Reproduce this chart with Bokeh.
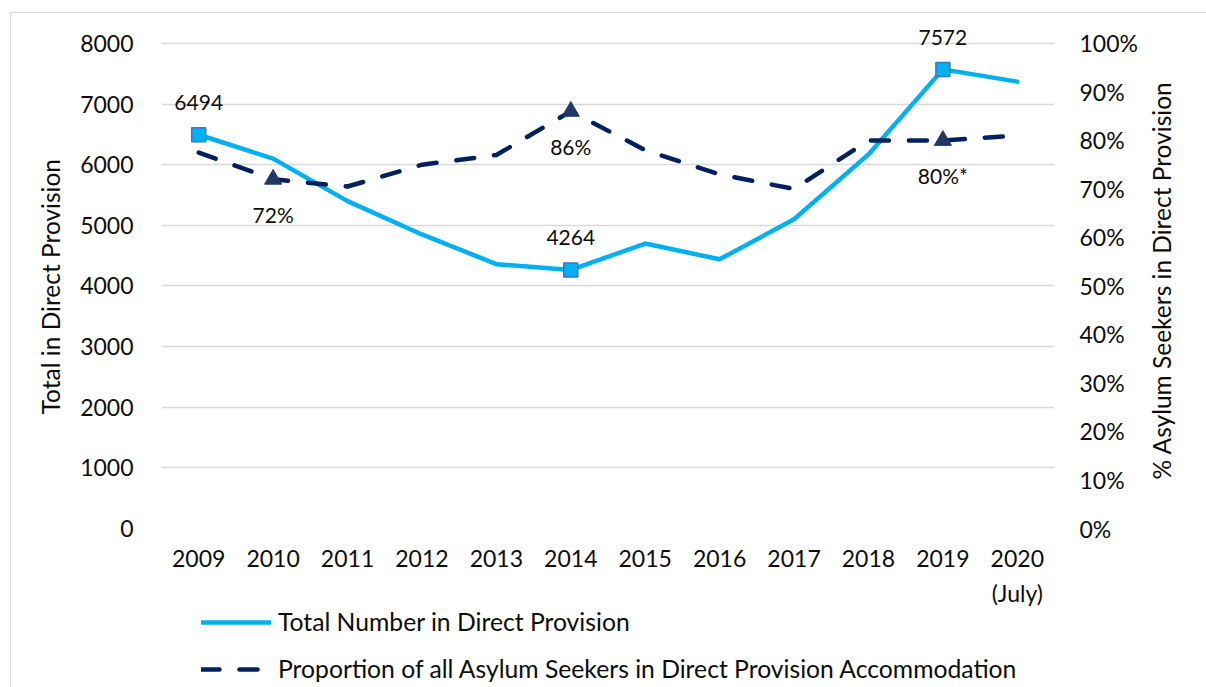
import math
from bokeh.plotting import figure
from bokeh.layouts import row, column
from bokeh.models import (Range1d, LinearAxis, FixedTicker, PrintfTickFormatter,
                          Legend, LegendItem, LabelSet, Label, ColumnDataSource)
from bokeh.embed import file_html
from bokeh.resources import INLINE
from bokeh.core.properties import value

# ---- data ----
years = ["2009", "2010", "2011", "2012", "2013", "2014",
         "2015", "2016", "2017", "2018", "2019", "2020\n(July)"]
total_dp = [6494, 6100, 5400, 4850, 4360, 4264, 4700, 4440, 5100, 6170, 7572, 7370]
pct_dp = [77.5, 72, 70.5, 75, 77, 86, 78, 73, 70, 80, 80, 81]

total_marked_years = ["2009", "2014", "2019"]
total_marked_text = ["6494", "4264", "7572"]
pct_marked_years = ["2010", "2014", "2019"]
pct_marked_text = ["72%", "86%", "80%*"]

left_ticks = [0, 1000, 2000, 3000, 4000, 5000, 6000, 7000, 8000]
right_ticks = [0, 10, 20, 30, 40, 50, 60, 70, 80, 90, 100]

series_names = ["Total Number in Direct Provision",
                "Proportion of all Asylum Seekers in Direct Provision Accommodation"]
left_title = "Total in Direct Provision"
right_title = "% Asylum Seekers in Direct Provision"

FONT = "Lato"
TXT = "#0d0d0d"
C_TOTAL = "#00b0f0"
C_PCT = "#002060"

total_marked_vals = [total_dp[years.index(y)] for y in total_marked_years]
pct_marked_vals = [pct_dp[years.index(y)] for y in pct_marked_years]

# ---- layout constants ----
FW, FH, AXIS_H = 893, 516, 486       # frame; 8000/100% line 30px under frame top
BL, BR, BB = 150, 90, 80             # borders of the main figure
PW, PH = BL + FW + BR, FH + BB
y_top = 8000 * FH / AXIS_H
pct_top = 100 * FH / AXIS_H

p = figure(x_range=years, y_range=Range1d(0, y_top), width=PW, height=PH,
           min_border_left=BL, min_border_right=BR, min_border_top=0,
           min_border_bottom=BB, output_backend="svg", toolbar_location=None)
p.outline_line_color = None
p.xgrid.grid_line_color = None
p.ygrid.grid_line_color = "#d9d9d9"
p.ygrid.grid_line_width = 1.5

p.yaxis.ticker = FixedTicker(ticks=left_ticks)
# trailing no-break spaces centre the title on the 0-8000 span
p.yaxis.axis_label = left_title + "\u00a0" * 5

p.extra_y_ranges = {"pct": Range1d(0, pct_top)}
rax = LinearAxis(y_range_name="pct", ticker=FixedTicker(ticks=right_ticks),
                 formatter=PrintfTickFormatter(format="%d%%"))
p.add_layout(rax, "right")

for ax in [p.xaxis[0], p.yaxis[0], rax]:
    ax.axis_line_color = None
    ax.major_tick_line_color = None
    ax.minor_tick_line_color = None
    ax.major_label_text_font = FONT
    ax.major_label_text_font_size = "23px"
    ax.major_label_text_color = TXT
    ax.axis_label_text_font = FONT
    ax.axis_label_text_font_size = "24.5px"
    ax.axis_label_text_font_style = "normal"
    ax.axis_label_text_color = TXT

p.xaxis.major_label_standoff = 9
p.xaxis.major_label_text_line_height = 1.25
p.yaxis[0].major_label_standoff = 22
p.yaxis[0].axis_label_standoff = 12
rax.major_label_standoff = 19

p.line(years, total_dp, line_color=C_TOTAL, line_width=4.5,
       line_join="round", line_cap="round")
p.line(years, pct_dp, y_range_name="pct", line_color=C_PCT,
       line_width=4.5, line_dash="18 20", line_cap="round")

p.scatter(total_marked_years, total_marked_vals, marker="square", size=14,
          fill_color=C_TOTAL, line_color="#4472c4", line_width=1.5)
p.scatter(pct_marked_years, pct_marked_vals, marker="triangle", size=17,
          fill_color="#1f3864", line_color="#1f3864", y_range_name="pct")

src_t = ColumnDataSource(dict(x=total_marked_years, y=total_marked_vals, t=total_marked_text))
src_p = ColumnDataSource(dict(x=pct_marked_years, y=pct_marked_vals, t=pct_marked_text))
p.add_layout(LabelSet(x="x", y="y", text="t", source=src_t,
                      text_align="center", text_baseline="middle", y_offset=32,
                      text_font=value(FONT), text_font_size="21px", text_color=TXT))
p.add_layout(LabelSet(x="x", y="y", text="t", source=src_p, y_range_name="pct",
                      text_align="center", text_baseline="middle", y_offset=-35,
                      text_font=value(FONT), text_font_size="21px", text_color=TXT))

# ---- right-hand axis title (reads bottom-to-top) ----
TW = 40
t = figure(width=TW, height=PH, x_range=Range1d(0, 1), y_range=Range1d(0, PH),
           min_border=0, output_backend="svg", toolbar_location=None)
t.axis.visible = False
t.grid.grid_line_color = None
t.outline_line_color = None
t.add_layout(Label(x=0.42, y=PH - (FH - AXIS_H) - AXIS_H / 2 - 36,
                   text=right_title, angle=math.pi / 2,
                   text_align="center", text_baseline="middle",
                   text_font=FONT, text_font_size="24.5px", text_color=TXT))

# ---- legend strip below (series drawn off-range; only their keys show) ----
LW, LH = 1195, 80
lg = figure(width=LW, height=LH, x_range=years, y_range=Range1d(-2, -1),
            min_border=0, output_backend="svg", toolbar_location=None)
lg.axis.visible = False
lg.grid.grid_line_color = None
lg.outline_line_color = None
lr1 = lg.line(years, total_dp, line_color=C_TOTAL, line_width=4.5, line_cap="round")
lr2 = lg.line(years, pct_dp, line_color=C_PCT, line_width=4.5,
              line_dash="18 20", line_cap="round")
legend = Legend(items=[LegendItem(label=series_names[0], renderers=[lr1]),
                       LegendItem(label=series_names[1], renderers=[lr2])],
                location=(190, LH - 74), border_line_color=None,
                background_fill_alpha=0, glyph_width=70, glyph_height=28,
                label_height=28, spacing=18, padding=0, margin=0,
                label_standoff=7, label_text_font=FONT,
                label_text_font_size="24.7px", label_text_color=TXT)
lg.add_layout(legend)

layout = column(row(p, t), lg)
layout.margin = (12, 0, 0, 10)
layout.styles = {"border-left": "1px solid #d9d9d9", "border-top": "1px solid #d9d9d9"}

open("out.html", "w").write(file_html(layout, INLINE))
